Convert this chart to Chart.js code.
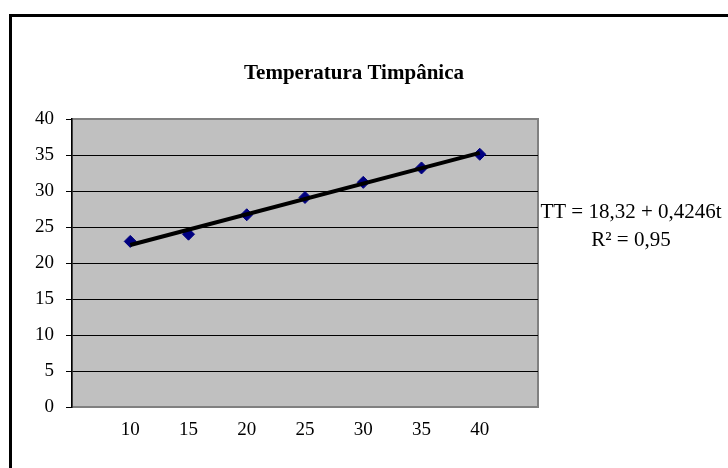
<!DOCTYPE html>
<html>
<head>
<meta charset="utf-8">
<script src="https://cdn.jsdelivr.net/npm/chart.js@4"></script>
<style>
  html, body { margin: 0; padding: 0; background: #fff; }
  #wrap { width: 728px; height: 468px; }
</style>
</head>
<body>
<div id="wrap"><canvas id="tempChart" width="728" height="468"></canvas></div>
<script>
// Data
const tempoX = [10, 15, 20, 25, 30, 35, 40];
const temperaturaY = [23.0, 24.0, 26.7, 29.1, 31.2, 33.2, 35.1];
// Trendline end points (as drawn)
const trendX = [10, 40];
const trendY = [22.5, 35.3];
const yTicks = [0, 5, 10, 15, 20, 25, 30, 35, 40];
const xTickLabels = [10, 15, 20, 25, 30, 35, 40];
const chartTitle = 'Temperatura Timpânica';
const equationLines = ['TT = 18,32 + 0,4246t', 'R² = 0,95'];

const serif = '"Liberation Serif", "Times New Roman", serif';

// Frame, plot background, title and equation text
const decorPlugin = {
    id: 'decor',
    beforeDraw(chart) {
        const ctx = chart.ctx;
        const a = chart.chartArea;
        ctx.save();
        ctx.fillStyle = '#ffffff';
        ctx.fillRect(0, 0, chart.width, chart.height);
        // outer frame (only top and left visible)
        ctx.fillStyle = '#000000';
        ctx.fillRect(9, 14, chart.width - 9, 3);
        ctx.fillRect(9, 14, 3, chart.height - 14);
        // plot area
        ctx.fillStyle = '#c0c0c0';
        ctx.fillRect(a.left, a.top, a.right - a.left, a.bottom - a.top);
        ctx.strokeStyle = '#808080';
        ctx.lineWidth = 2;
        ctx.strokeRect(a.left, a.top, a.right - a.left, a.bottom - a.top);
        ctx.restore();
    },
    afterDraw(chart) {
        const ctx = chart.ctx;
        ctx.save();
        ctx.fillStyle = '#000000';
        ctx.textAlign = 'center';
        ctx.textBaseline = 'middle';
        ctx.font = 'bold 21px ' + serif;
        ctx.fillText(chartTitle, 354, 74);
        ctx.font = '21px ' + serif;
        ctx.fillText(equationLines[0], 631, 212);
        ctx.fillText(equationLines[1], 631, 240);
        ctx.restore();
    }
};

const ctx = document.getElementById('tempChart').getContext('2d');
new Chart(ctx, {
    type: 'scatter',
    data: {
        datasets: [{
            label: 'Tendência',
            data: trendX.map((x, i) => ({ x: x, y: trendY[i] })),
            showLine: true,
            borderColor: '#000000',
            borderWidth: 4,
            pointRadius: 0,
            order: 0
        }, {
            label: chartTitle,
            data: tempoX.map((x, i) => ({ x: x, y: temperaturaY[i] })),
            showLine: false,
            pointStyle: 'rectRot',
            pointRadius: 6,
            backgroundColor: '#000080',
            borderColor: '#000080',
            borderWidth: 1,
            order: 1
        }]
    },
    options: {
        responsive: false,
        animation: false,
        layout: { padding: { left: 0, right: 190, top: 119, bottom: 0 } },
        plugins: {
            legend: { display: false },
            tooltip: { enabled: false },
            title: { display: false }
        },
        scales: {
            x: {
                type: 'linear',
                min: 5,
                max: 45,
                afterFit(scale) { scale.height = 61; },
                afterBuildTicks(scale) {
                    scale.ticks = xTickLabels.map(v => ({ value: v }));
                },
                grid: { display: false, drawTicks: false },
                border: { display: true, color: '#808080', width: 2 },
                ticks: {
                    color: '#000000',
                    padding: 12,
                    maxRotation: 0,
                    font: { family: serif, size: 19 }
                }
            },
            y: {
                min: 0,
                max: 40,
                afterFit(scale) { scale.width = 72; },
                afterBuildTicks(scale) {
                    scale.ticks = yTicks.map(v => ({ value: v }));
                },
                grid: {
                    color: c => (c.tick && c.tick.value === 40) ? '#808080' : '#000000',
                    lineWidth: 1,
                    tickLength: 6,
                    tickColor: '#000000'
                },
                border: { display: true, color: '#000000', width: 1.5 },
                ticks: {
                    color: '#000000',
                    padding: 12,
                    font: { family: serif, size: 19 }
                }
            }
        }
    },
    plugins: [decorPlugin]
});
</script>
</body>
</html>
